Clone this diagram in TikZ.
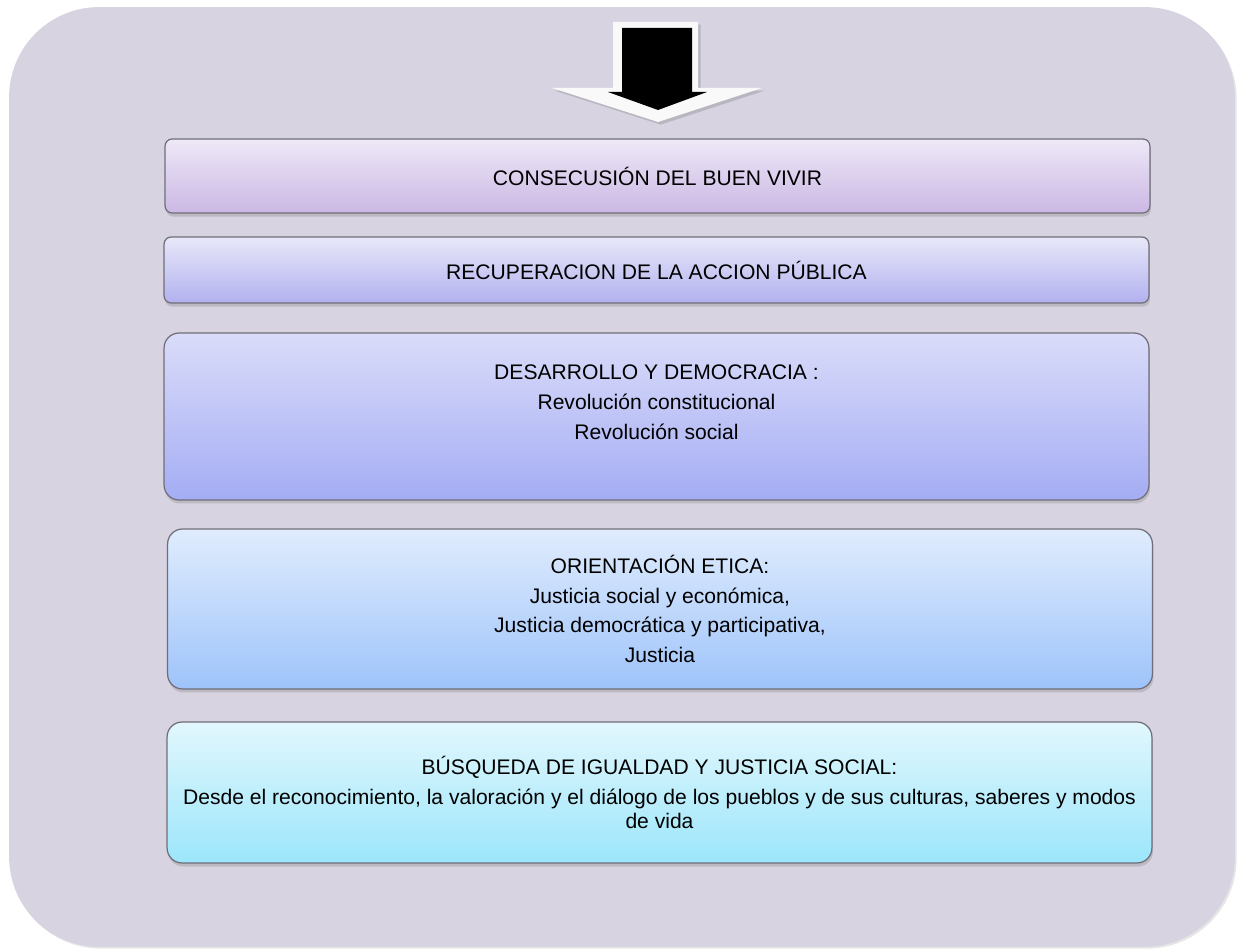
\documentclass[tikz,border=0pt]{standalone}
\usepackage{fontspec}
\setmainfont{Liberation Sans}
\usepackage{xcolor}
\usepackage{tikz}
\usetikzlibrary{shapes.geometric, shadows}
\definecolor{fondo}{HTML}{D7D3E1}
\definecolor{borde}{HTML}{6F6E78}
\definecolor{buenA}{HTML}{EEE8F7}
\definecolor{buenB}{HTML}{CBB8E4}
\definecolor{accionA}{HTML}{E8E8F9}
\definecolor{accionB}{HTML}{B2B1EF}
\definecolor{demoA}{HTML}{DADCF9}
\definecolor{demoB}{HTML}{A4ADF4}
\definecolor{eticaA}{HTML}{E0ECFD}
\definecolor{eticaB}{HTML}{9EC4FA}
\definecolor{igualA}{HTML}{E2F7FD}
\definecolor{igualB}{HTML}{9CE6FB}
\tikzstyle{frame} = [rectangle, rounded corners=1.8cm, minimum width=24.52cm, minimum height=18.8cm, fill=fondo, drop shadow={shadow xshift=1pt, shadow yshift=-1pt, opacity=0.2}]
\tikzstyle{band} = [rectangle, rounded corners=4pt, minimum width=19.7cm, text centered, align=center, draw=borde, line width=0.7pt, font=\fontsize{12}{17}\selectfont, drop shadow={shadow xshift=0.6pt, shadow yshift=-2pt, opacity=0.3}]
\tikzstyle{bigband} = [band, rounded corners=8.5pt]
\tikzstyle{txt} = [align=center, font=\fontsize{12}{17}\selectfont]

\begin{document}
\begin{tikzpicture}[x=0.02cm, y=-0.02cm]
   \useasboundingbox (0,0) rectangle (1244,952);
   \node (marco) [frame] at (622,477) {};

   \path [fill=white!95!gray, drop shadow={shadow xshift=1.5pt, shadow yshift=-1.5pt, opacity=0.35}]
      (613,22) -- (698,22) -- (698,88) -- (762,88) -- (658,122) -- (552,88) -- (613,88) -- cycle;
   \path [fill=black] (622,28) -- (692,28) -- (692,92) -- (707,92) -- (658,110) -- (608,92) -- (622,92) -- cycle;

   \node (buen) [band, minimum height=1.48cm, top color=buenA, bottom color=buenB] at (657.5,176) {CONSECUSIÓN DEL BUEN VIVIR};
   \node (accion) [band, minimum height=1.32cm, top color=accionA, bottom color=accionB] at (656.5,270) {RECUPERACION DE LA ACCION PÚBLICA};
   \node (demo) [bigband, minimum height=3.34cm, top color=demoA, bottom color=demoB] at (656.5,416.5) {};
   \node (demotxt) [txt] at (656.5,402) {DESARROLLO Y DEMOCRACIA :\\Revolución constitucional\\Revolución social};
   \node (etica) [bigband, minimum height=3.2cm, top color=eticaA, bottom color=eticaB] at (660,609) {ORIENTACIÓN ETICA:\\Justicia social y económica,\\Justicia democrática y participativa,\\Justicia};
   \node (igualdad) [bigband, minimum height=2.82cm, top color=igualA, bottom color=igualB] at (659.5,792.5) {BÚSQUEDA DE IGUALDAD Y JUSTICIA SOCIAL:\\Desde el reconocimiento, la valoración y el diálogo de los pueblos y de sus culturas, saberes y modos\\[-2.8pt]de vida};
\end{tikzpicture}
\end{document}
